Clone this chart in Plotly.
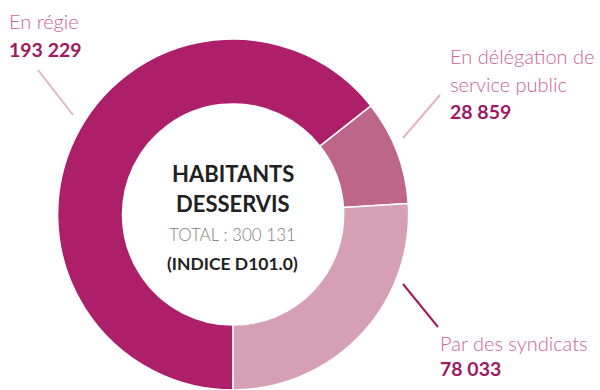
import plotly.graph_objects as go

labels = ["En régie", "En délégation de service public", "Par des syndicats"]
values = [193229, 28859, 78033]
colors = ["#AD1F69", "#BE6689", "#D6A0B4"]
total_label = "300 131"

def fmt(v):
    return f"{v:,}".replace(",", " ")

W, H = 600, 390
FONT = "Lato"

fig = go.Figure(go.Pie(
    labels=labels, values=values, sort=False, direction="clockwise",
    rotation=180, hole=0.63, textinfo="none", hoverinfo="label+value",
    marker=dict(colors=colors, line=dict(color="white", width=1.5)),
    domain=dict(x=[0.095, 0.682], y=[0.0, 0.9]), showlegend=False,
))

def px(x): return x / W
def py(y): return 1 - y / H

ann = []
def txt(x, y, s, size, color, weight=300, xanchor="left"):
    ann.append(dict(x=px(x), y=py(y), xref="paper", yref="paper", text=s,
                    showarrow=False, xanchor=xanchor, yanchor="middle",
                    font=dict(family=FONT, size=size, color=color, weight=weight)))

light = "#C8649A"
dark = "#A0195E"
txt(7, 21, labels[0], 20, light)
txt(7, 50, fmt(values[0]), 19.5, dark, 700)
txt(448, 56, "En délégation de", 20, light)
txt(448, 84, "service public", 20, light)
txt(448, 111, fmt(values[1]), 19.5, dark, 700)
txt(438, 343, labels[2], 20, light)
txt(438, 368, fmt(values[2]), 19.5, dark, 700)

cx = 233
txt(cx, 173, "HABITANTS", 22, "#222222", 700, "center")
txt(cx, 203, "DESSERVIS", 22, "#222222", 700, "center")
txt(cx, 234, "TOTAL : " + total_label, 17, "#808080", 300, "center")
txt(cx, 263, "(INDICE D101.0)", 17.5, "#222222", 700, "center")

shapes = [
    dict(type="line", xref="paper", yref="paper", x0=px(38), y0=py(70), x1=px(73), y1=py(115),
         line=dict(color="#E3B3C8", width=2)),
    dict(type="line", xref="paper", yref="paper", x0=px(440), y0=py(95), x1=px(403), y1=py(138),
         line=dict(color="#E3B3C8", width=2)),
    dict(type="line", xref="paper", yref="paper", x0=px(403), y0=py(284), x1=px(438), y1=py(327),
         line=dict(color="#A3185F", width=2)),
]

fig.update_layout(width=W, height=H, margin=dict(l=0, r=0, t=0, b=0),
                  paper_bgcolor="white", plot_bgcolor="white",
                  annotations=ann, shapes=shapes)
fig.write_html("out.html", config={"displayModeBar": False},
               post_script="document.body.style.margin='0';")
